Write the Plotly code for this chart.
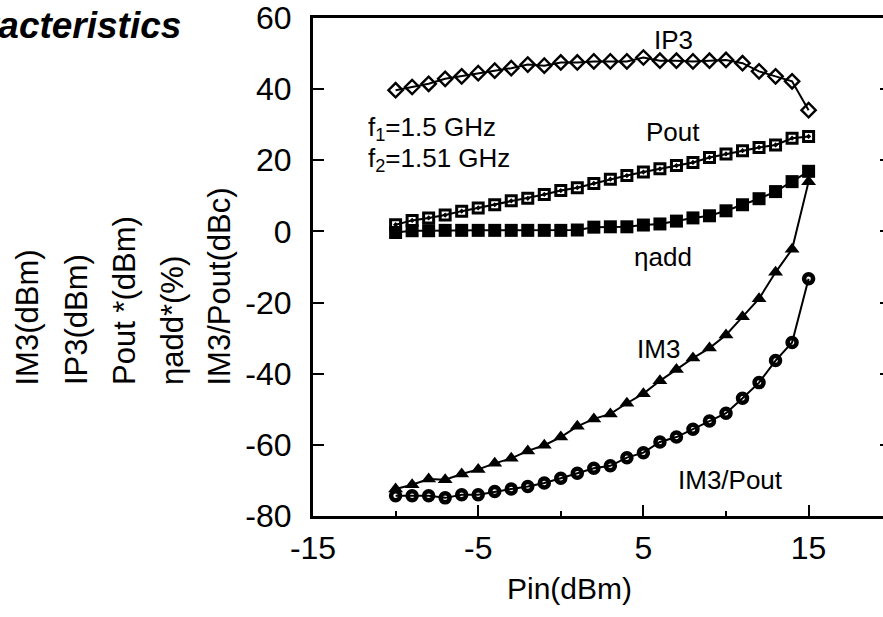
import plotly.graph_objects as go

pin = list(range(-10, 16))

ip3 = [39.7, 40.6, 41.5, 42.9, 43.6, 44.5, 45.2, 45.9, 46.9, 46.6, 47.5, 47.5, 47.8,
       47.8, 47.8, 48.9, 48.0, 48.0, 47.8, 48.0, 48.2, 47.3, 45.0, 43.6, 42.2, 34.1]
pout = [1.9, 3.1, 3.8, 4.6, 5.7, 6.6, 7.5, 8.6, 9.3, 10.4, 11.5, 12.3, 13.5,
        14.7, 15.7, 16.7, 17.6, 18.5, 19.4, 20.8, 21.8, 22.7, 23.6, 24.3, 26.2, 26.7]
eta_add = [-0.3, 0.2, 0.2, 0.3, 0.3, 0.3, 0.3, 0.3, 0.3, 0.3, 0.3, 0.4, 1.2,
           1.3, 1.3, 1.8, 2.1, 2.9, 3.8, 4.4, 5.8, 7.5, 9.2, 11.2, 14.0, 16.9]
im3 = [-72.4, -71.2, -69.6, -69.8, -68.2, -66.9, -65.2, -63.8, -61.7, -60.1, -57.8, -54.8, -52.7,
       -51.3, -48.3, -45.6, -42.0, -38.8, -35.6, -32.8, -29.1, -24.0, -18.9, -11.5, -5.0, 14.0]
im3_pout = [-74.3, -74.3, -74.3, -74.9, -74.0, -74.0, -73.1, -72.4, -71.7, -70.7, -69.4, -68.0, -66.6,
            -65.9, -63.6, -62.2, -59.2, -57.8, -55.6, -53.3, -51.1, -46.9, -42.5, -36.3, -31.2, -13.3]

x_ticks = [-15, -5, 5, 15]
x_minor_ticks = [-10, 0, 10, 20]
y_ticks = [-80, -60, -40, -20, 0, 20, 40, 60]
y_labels = ["IM3(dBm)", "IP3(dBm)", "Pout *(dBm)", "ηadd*(%)", "IM3/Pout(dBc)"]

FONT = "Liberation Sans, Arial, sans-serif"

W, H = 883, 617
L, R, T, B = 313, 0, 16, 101
PW, PH = W - L - R, H - T - B
X_PER_PX = 1 / 16.52
x_range = [-15, -15 + PW * X_PER_PX]
y_range = [-80, 60]


def px_to_paper_x(px):
    return (px - L) / PW


def px_to_paper_y(py):
    return (H - B - py) / PH


fig = go.Figure()

line = dict(color="black", width=2)
fig.add_trace(go.Scatter(x=pin, y=ip3, mode="lines+markers", line=line,
                         marker=dict(symbol="diamond-open", size=11, color="black",
                                     line=dict(width=2.4, color="black")), showlegend=False))
fig.add_trace(go.Scatter(x=pin, y=pout, mode="lines+markers", line=line,
                         marker=dict(symbol="square-open-dot", size=10, color="black",
                                     line=dict(width=3, color="black")), showlegend=False))
fig.add_trace(go.Scatter(x=pin, y=eta_add, mode="lines+markers", line=line,
                         marker=dict(symbol="square", size=13, color="black"), showlegend=False))
fig.add_trace(go.Scatter(x=pin, y=im3, mode="lines+markers", line=line,
                         marker=dict(symbol="triangle-up", size=13, color="black"), showlegend=False))
fig.add_trace(go.Scatter(x=pin, y=im3_pout, mode="lines+markers", line=line,
                         marker=dict(symbol="circle-open", size=9, color="black",
                                     line=dict(width=4.5, color="black")), showlegend=False))
# empty trace to hold the right-side tick axis
fig.add_trace(go.Scatter(x=[], y=[], yaxis="y2", showlegend=False))

tickfont = dict(family=FONT, size=32, color="black")
fig.update_layout(
    width=W, height=H,
    margin=dict(l=L, r=R, t=T, b=B, pad=0),
    paper_bgcolor="white", plot_bgcolor="white",
    font=dict(family=FONT, color="black"),
    xaxis=dict(range=x_range, tickmode="array", tickvals=x_ticks,
               ticktext=[str(v) for v in x_ticks],
               ticks="inside", ticklen=11, tickwidth=1.5, tickcolor="black",
               minor=dict(tickmode="array", tickvals=x_minor_ticks, ticks="inside",
                          ticklen=5, tickwidth=1.5, tickcolor="black"),
               showline=True, linewidth=3, linecolor="black", mirror=True,
               showgrid=False, zeroline=False, tickfont=tickfont,
               ticklabelstandoff=2, ticklabeloverflow="allow"),
    yaxis=dict(range=y_range, tickmode="array", tickvals=y_ticks,
               ticktext=[str(v) for v in y_ticks],
               ticks="inside", ticklen=11, tickwidth=1.5, tickcolor="black",
               showline=True, linewidth=3, linecolor="black", mirror=False,
               showgrid=False, zeroline=False, tickfont=tickfont,
               ticklabelstandoff=12, ticklabeloverflow="allow"),
    yaxis2=dict(range=y_range, overlaying="y", side="right", tickmode="array",
                tickvals=y_ticks, ticks="inside", ticklen=3, tickwidth=1.5,
                tickcolor="black", showticklabels=False, showline=False,
                showgrid=False, zeroline=False),
)

ann_font = dict(family=FONT, size=26, color="black")
curve_labels = [
    ("IP3", 673, 38),
    ("Pout", 673, 130),
    ("ηadd", 663, 256),
    ("IM3", 658, 348),
    ("IM3/Pout", 730, 480),
]
for text, px, py in curve_labels:
    fig.add_annotation(text=text, x=px_to_paper_x(px), y=px_to_paper_y(py),
                       xref="paper", yref="paper", xanchor="center", yanchor="middle",
                       showarrow=False, font=ann_font)

fig.add_annotation(text="f<sub>1</sub>=1.5 GHz", x=px_to_paper_x(366), y=px_to_paper_y(127),
                   xref="paper", yref="paper", xanchor="left", yanchor="middle",
                   showarrow=False, font=dict(family=FONT, size=26, color="black"))
fig.add_annotation(text="f<sub>2</sub>=1.51 GHz", x=px_to_paper_x(366), y=px_to_paper_y(158),
                   xref="paper", yref="paper", xanchor="left", yanchor="middle",
                   showarrow=False, font=dict(family=FONT, size=26, color="black"))

for i, text in enumerate(y_labels):
    fig.add_annotation(text=text, x=px_to_paper_x(28 + 48 * i), y=px_to_paper_y(387),
                       xref="paper", yref="paper", xanchor="center", yanchor="bottom",
                       textangle=-90, showarrow=False,
                       font=dict(family=FONT, size=31, color="black"))

fig.add_annotation(text="Pin(dBm)", x=px_to_paper_x(569), y=px_to_paper_y(589),
                   xref="paper", yref="paper", xanchor="center", yanchor="middle",
                   showarrow=False, font=dict(family=FONT, size=30, color="black"))

fig.add_annotation(text="<b><i>Characteristics</i></b>", x=px_to_paper_x(183), y=px_to_paper_y(24),
                   xref="paper", yref="paper", xanchor="right", yanchor="middle",
                   showarrow=False, font=dict(family=FONT, size=37, color="black"))

fig.write_html("out.html",
               config={"displayModeBar": False},
               post_script="document.body.style.margin='0';document.body.style.overflow='hidden';")
